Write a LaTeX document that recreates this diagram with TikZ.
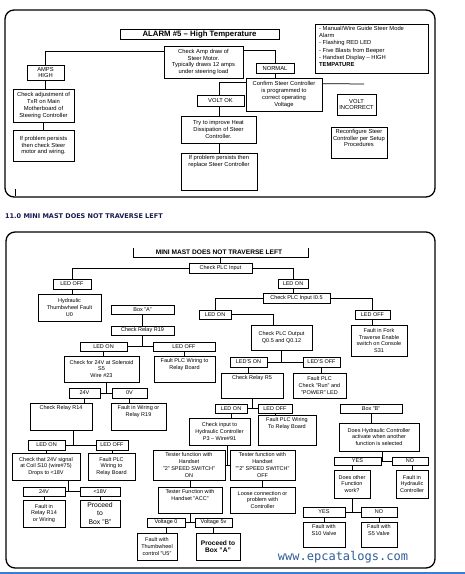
\documentclass[tikz,border=0pt]{standalone}
\usepackage{fontspec}
\setmainfont{Liberation Sans}
\newfontfamily\headfont{DejaVu Sans}
\newfontfamily\wmfont{DejaVu Sans Mono}
\definecolor{navy}{HTML}{1A1A50}
\definecolor{wmblue}{HTML}{2E5C9A}
\definecolor{lineblue}{HTML}{3A7BD5}
\newcommand\fb{\fontsize{5.5}{6.7}\selectfont}
\newcommand\ft{\fontsize{5.8}{6.7}\selectfont}
\tikzset{
 bx/.style={draw, line width=0.75pt, inner sep=0pt, align=center, font=\fb},
 tp/.style={font=\ft},
 bxlab/.style={anchor=north, inner sep=0pt, yshift=-2.5pt, align=center, font=\fb},
 cn/.style={line width=0.75pt},
 frame/.style={line width=1.3pt, rounded corners=9pt},
 bigtxt/.style={font=\bfseries\fontsize{6.6}{7.6}\selectfont},
}
\newcommand\mkbox[7][]{\node[bx,#1,minimum width={(#4-#3)*1pt},minimum height={(#6-#5)*1pt}] (#2) at ({(#3+#4)/2},{(#5+#6)/2}) {#7};}
\newcommand\mkboxT[7][]{\node[bx,#1,minimum width={(#4-#3)*1pt},minimum height={(#6-#5)*1pt},label={[bxlab,#1]north:{#7}}] (#2) at ({(#3+#4)/2},{(#5+#6)/2}) {};}
\newcommand\vc[2]{\draw[cn] (#1.south) -- (#1.south |- #2.north);}
\begin{document}
\begin{tikzpicture}[x=1pt,y=-1pt]
\useasboundingbox (0,0) rectangle (465,574);
% ---------------- top panel
\draw[frame] (5,10) rectangle (435,197);
\coordinate (imark1) at (15.5,189); \coordinate (imark2) at (15.5,196);
\draw[line width=1.2pt] (imark1) -- (imark2);
\node[bx, font=\bfseries\fontsize{7.8}{9}\selectfont, minimum width=159pt, minimum height=10pt] (t_title) at (199.5,34) {ALARM \#5 – High Temperature};
\mkbox[tp]{t_amp}{164}{243}{46}{78}{Check Amp draw of\\Steer Motor.\\Typically draws 12 amps\\under steering load}
\mkbox[tp]{t_high}{27}{64}{65}{80}{AMPS\\HIGH}
\mkbox[tp]{t_adj}{13}{74}{89}{122}{Check adjustment of\\TxR on Main\\Motherboard of\\Steering Controller}
\mkbox[tp]{t_pers}{13}{74}{130}{161}{If problem persists\\then check Steer\\motor and wiring.}
\mkbox[tp]{t_normal}{256}{294}{63}{73}{NORMAL}
\mkbox[tp]{t_conf}{246}{322}{78}{111}{Confirm Steer Controller\\is programmed to\\correct operating\\Voltage}
\mkbox[tp]{t_vok}{197}{244}{95}{106}{VOLT OK}
\mkbox[tp]{t_heat}{181}{256}{116}{143}{Try to improve Heat\\Dissipation of Steer\\Controller.}
\mkboxT[tp]{t_repl}{181}{257}{153}{190}{If problem persists then\\replace Steer Controller}
\mkbox[tp]{t_vinc}{337}{376}{94}{115}{VOLT\\INCORRECT}
\mkboxT[tp]{t_reconf}{331}{387}{127}{158}{Reconfigure Steer\\Controller per Setup\\Procedures}
\mkbox{t_info}{315}{428}{24}{73}{}
\node[anchor=north west, align=left, inner sep=0pt, font=\fontsize{5.8}{7.2}\selectfont] (t_infotxt) at (319,26) {- Manual/Wire Guide Steer Mode\\Alarm\\- Flashing RED LED\\- Five Blasts from Beeper\\- Handset Display – HIGH\\\textbf{TEMPATURE}};
\draw[cn] ([yshift=-6pt]t_amp.north west) -| (t_high.north);
\vc{t_high}{t_adj}
\vc{t_adj}{t_pers}
\draw[cn] ([yshift=-5pt]t_amp.north east) -| (t_normal.north);
\vc{t_normal}{t_conf}
\draw[cn] ([yshift=-5pt]t_conf.north west) -| ([xshift=-1.5pt]t_vok.north);
\draw[cn] ([xshift=-1.5pt]t_vok.south) -- ([xshift=-1.5pt]t_vok.south |- t_heat.north);
\draw[cn] ([xshift=-1.5pt]t_vok.south |- t_heat.south) -- ([xshift=-1.5pt]t_vok.south |- t_repl.north);
\coordinate (t_end) at (364,84);
\draw[cn] ([yshift=-6pt]t_conf.north east) -- (t_end);
% ---------------- heading
\node[anchor=west, inner sep=0pt, text=navy, font=\headfont\bfseries\fontsize{6.5}{7}\selectfont] (head) at (5,216) {11.0 MINI MAST DOES NOT TRAVERSE LEFT};
% ---------------- bottom panel
\draw[frame] (6,232) rectangle (435,568);
\node[inner sep=0pt, font=\bfseries\fontsize{6.6}{8}\selectfont] (b_title) at (219,252.5) {MINI MAST DOES NOT TRAVERSE LEFT};
\coordinate (b_tl) at (133,248); \coordinate (b_tr) at (308,248); \coordinate (b_tb) at (220,257);
\draw[cn] (b_tl) |- (b_tr |- b_tb) -- (b_tr);
\mkbox{b_plc}{189}{252}{263}{273}{Check PLC Input}
\draw[cn] (b_tb) -- (b_tb |- b_plc.north);
\mkbox{b_ledoff1}{53}{91}{279}{289}{LED OFF}
\mkbox{b_thumb0}{38}{101}{294}{321}{Hydraulic\\Thumbwheel Fault\\U0}
\draw[cn] (b_plc.west) -| (b_ledoff1.north);
\vc{b_ledoff1}{b_thumb0}
\mkbox{b_ledon1}{278}{308}{279}{288}{LED ON}
\mkbox{b_i05}{263}{330}{293}{303}{Check PLC Input I0.5}
\draw[cn] (b_plc.east) -| (b_ledon1.north);
\vc{b_ledon1}{b_i05}
\mkbox{b_ledon2}{199}{231}{310}{319}{LED ON}
\mkbox{b_q05}{251}{312}{325}{350}{Check PLC Output\\Q0.5 and Q0.12}
\draw[cn] (b_i05.west) -| (b_ledon2.north);
\draw[cn] (b_ledon2.east) -| ([xshift=-8.5pt]b_q05.north);
\mkbox{b_ledoff2}{355}{390}{310}{319}{LED OFF}
\mkbox{b_s31}{351}{407}{325}{356}{Fault in Fork\\Traverse Enable\\switch on Console\\S31}
\draw[cn] (b_i05.east) -| (b_ledoff2.north);
\vc{b_ledoff2}{b_s31}
\mkbox{b_ledson}{230}{267}{357}{367}{LED'S ON}
\mkbox{b_ledsoff}{303}{340}{357}{367}{LED'S OFF}
\draw[cn] (b_q05.south) -- (b_q05.south |- b_ledson.east);
\draw[cn] (b_ledson.east) -- (b_ledsoff.west);
\mkboxT{b_r5}{221}{283}{373}{398}{Check Relay R5}
\mkbox{b_runled}{293}{346}{373}{398}{Fault PLC\\Check "Run" and\\"POWER" LED}
\vc{b_ledson}{b_r5}
\vc{b_ledsoff}{b_runled}
\mkbox{b_ledon3}{215}{247}{404}{413}{LED ON}
\mkbox{b_ledoff3}{258}{292}{404}{413}{LED OFF}
\draw[cn] (b_r5.south) -- (b_r5.south |- b_ledon3.east);
\draw[cn] (b_ledon3.east) -- (b_ledoff3.west);
\mkbox{b_p3}{189}{250}{418}{445}{Check input to\\Hydraulic Controller\\P3 – Wire\#91}
\mkboxT{b_relayb2}{258}{316}{415}{445}{Fault PLC Wiring\\To Relay Board}
\draw[cn] (b_ledon3.south) -- (b_ledon3.south |- b_p3.north);
\vc{b_ledoff3}{b_relayb2}
\mkbox{b_t2on}{153}{225}{450}{480}{Tester function with\\Handset\\"2" SPEED SWITCH"\\ON}
\mkbox{b_t2off}{230}{295}{450}{480}{Tester function with\\Handset\\""2" SPEED SWITCH"\\OFF}
\coordinate (b_p3c) at (227,445);
\draw[cn] (b_p3c) -- (b_p3c |- b_t2on.east);
\draw[cn] (b_t2on.east) -- (b_t2off.west);
\mkboxT{b_acc}{158}{222}{487}{513}{Tester Function with\\Handset "ACC"}
\mkbox{b_loose}{230}{295}{487}{513}{Loose connection or\\problem with\\Controller}
\draw[cn] (b_acc.north |- b_t2on.south) -- (b_acc.north);
\vc{b_t2off}{b_loose}
\mkbox{b_v0}{147}{185}{518}{527}{Voltage 0}
\mkbox{b_v5}{195}{232}{518}{527}{Voltage 5v}
\draw[cn] (b_acc.south) -- (b_acc.south |- b_v0.east);
\draw[cn] (b_v0.east) -- (b_v5.west);
\mkbox{b_u5}{137}{177}{533}{560}{Fault with\\Thumbwheel\\control "U5"}
\mkbox[bigtxt]{b_procA}{196}{240}{533}{560}{Proceed to\\Box "A"}
\draw[cn] (b_v0.south) -- (b_v0.south |- b_u5.north);
\draw[cn] (b_v5.south) -- (b_v5.south |- b_procA.north);
% left column
\mkbox{b_boxA}{111}{174}{305}{314}{Box "A"}
\mkbox{b_r19}{111}{174}{326}{335}{Check Relay R19}
\vc{b_boxA}{b_r19}
\mkbox{b_ledon4}{80}{127}{342}{351}{LED ON}
\mkbox{b_ledoff4}{153}{215}{342}{351}{LED OFF}
\draw[cn] (b_r19.south) -- (b_r19.south |- b_ledon4.east);
\draw[cn] (b_ledon4.east) -- (b_ledoff4.west);
\mkbox{b_s5}{64}{139}{356}{382}{Check for 24V at Solenoid\\S5\\Wire \#23}
\mkboxT{b_relayb1}{154}{215}{356}{382}{Fault PLC Wiring to\\Relay Board}
\vc{b_ledon4}{b_s5}
\vc{b_ledoff4}{b_relayb1}
\mkbox{b_24v1}{69}{100}{388}{398}{24V}
\mkbox{b_0v}{112}{147}{388}{398}{0V}
\coordinate (b_s5c) at (106,382);
\draw[cn] (b_s5c) -- (b_s5c |- b_24v1.east);
\draw[cn] (b_24v1.east) -- (b_0v.west);
\mkboxT{b_r14}{30}{92}{403}{430}{Check Relay R14}
\mkboxT{b_wiring}{111}{166}{403}{430}{Fault in Wiring or\\Relay R19}
\draw[cn] (b_24v1.south) -- (b_24v1.south |- b_r14.north);
\vc{b_0v}{b_wiring}
\mkbox{b_ledon5}{28}{65}{440}{450}{LED ON}
\mkbox{b_ledoff5}{96}{128}{440}{450}{LED OFF}
\coordinate (b_r14c) at (73,430);
\draw[cn] (b_r14c) -- (b_r14c |- b_ledon5.east);
\draw[cn] (b_ledon5.east) -- (b_ledoff5.west);
\mkbox{b_coil}{12}{80}{453}{480}{Check that 24V signal\\at Coil S10 (wire\#75)\\Drops to <18V}
\mkbox{b_relayb3}{88}{135}{453}{480}{Fault PLC\\Wiring to\\Relay Board}
\vc{b_ledon5}{b_coil}
\vc{b_ledoff5}{b_relayb3}
\mkbox{b_24v2}{23}{65}{487}{496}{24V}
\mkbox{b_18v}{80}{120}{487}{496}{<18V}
\coordinate (b_coilc) at (68,480);
\draw[cn] (b_coilc) -- (b_coilc |- b_24v2.east);
\draw[cn] (b_24v2.east) -- (b_18v.west);
\mkbox{b_r14f}{23}{65}{500}{527}{Fault in\\Relay R14\\or Wiring}
\mkbox[font=\fontsize{6.8}{8.2}\selectfont]{b_procB}{80}{120}{500}{527}{Proceed\\to\\Box "B"}
\vc{b_24v2}{b_r14f}
\vc{b_18v}{b_procB}
% right column
\mkbox{b_boxB}{340}{402}{404}{413}{Box "B"}
\mkbox{b_hyd}{339}{419}{423}{451}{Does Hydraulic Controller\\activate when another\\function is selected}
\draw[cn] (b_boxB.south) -- (b_boxB.south |- b_hyd.north);
\mkbox{b_yes1}{334}{381}{457}{465}{YES}
\mkbox{b_no1}{392}{428}{457}{465}{NO}
\coordinate (b_hydc) at (382,451);
\draw[cn] (b_hydc) -- (b_hydc |- b_yes1.east);
\draw[cn] (b_yes1.east) -- (b_no1.west);
\mkbox{b_other}{334}{370}{470}{498}{Does other\\Function\\work?}
\mkbox{b_hydf}{396}{428}{470}{498}{Fault in\\Hydraulic\\Controller}
\draw[cn] (b_other.north |- b_yes1.south) -- (b_other.north);
\draw[cn] (b_hydf.north |- b_no1.south) -- (b_hydf.north);
\mkbox{b_yes2}{303}{345}{507}{517}{YES}
\mkbox{b_no2}{361}{397}{507}{517}{NO}
\draw[cn] (b_other.south) -- (b_other.south |- b_yes2.east);
\draw[cn] (b_yes2.east) -- (b_no2.west);
\mkboxT{b_s10v}{303}{345}{522}{547}{Fault with\\S10 Valve}
\mkboxT{b_s5v}{361}{397}{522}{547}{Fault with\\S5 Valve}
\vc{b_yes2}{b_s10v}
\vc{b_no2}{b_s5v}
% watermark and bottom rule
\node[inner sep=0pt, text=wmblue, font=\wmfont\fontsize{12}{14}\selectfont] (wm) at (343,557) {www.epcatalogs.com};
\coordinate (bl1) at (0,573); \coordinate (bl2) at (465,573);
\draw[lineblue, line width=2pt] (bl1) -- (bl2);
\end{tikzpicture}
\end{document}
